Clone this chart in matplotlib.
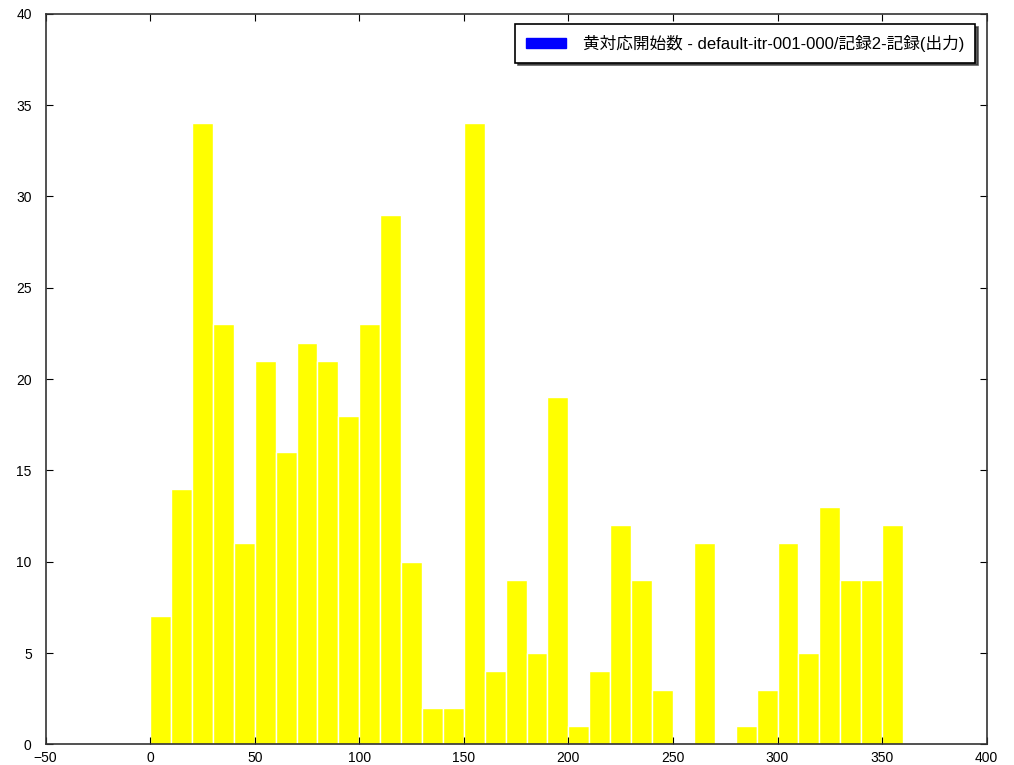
import numpy as np
import matplotlib
matplotlib.use("Agg")
import matplotlib.pyplot as plt
from matplotlib.patches import Patch

plt.rcParams['font.family'] = ['Liberation Sans', 'Noto Sans CJK JP', 'DejaVu Sans']

# counts per 10-unit bin, 0..360
bin_edges = list(range(0, 370, 10))
counts = [7, 14, 34, 23, 11, 21, 16, 22, 21, 18,
          23, 29, 10, 2, 2, 34, 4, 9, 5, 19,
          1, 4, 12, 9, 3, 0, 11, 0, 1, 3,
          11, 5, 13, 9, 9, 12]
series_label = "黄対応開始数 - default-itr-001-000/記録2-記録(出力)"

fig = plt.figure(figsize=(10.14, 7.65), dpi=100)
ax = fig.add_axes([0.045, 0.027, 0.928, 0.955])

ax.hist(bin_edges[:-1], bins=bin_edges, weights=counts,
        color='yellow', edgecolor='white', linewidth=1.0)

ax.set_xlim(-50, 400)
ax.set_ylim(0, 40)
ax.set_xticks(np.arange(-50, 401, 50))
ax.set_yticks(np.arange(0, 41, 5))
ax.tick_params(direction='in', top=True, right=True, labelsize=10,
               length=5, width=0.8, pad=5)
ax.tick_params(axis='y', pad=10)
for s in ax.spines.values():
    s.set_linewidth(1.2)
    s.set_color('#333333')

handle = Patch(facecolor='blue', edgecolor='blue')
leg = ax.legend([handle], [series_label], loc='upper right', fontsize=12,
                shadow={'color': '0.2', 'alpha': 0.8}, fancybox=False,
                framealpha=1, borderpad=0.65, handlelength=2.4,
                handleheight=0.55, handletextpad=1.0,
                bbox_to_anchor=(0.9965, 0.9975))
leg.get_frame().set_edgecolor('black')
leg.get_frame().set_linewidth(1.2)

fig.savefig("out.png", dpi=100)
